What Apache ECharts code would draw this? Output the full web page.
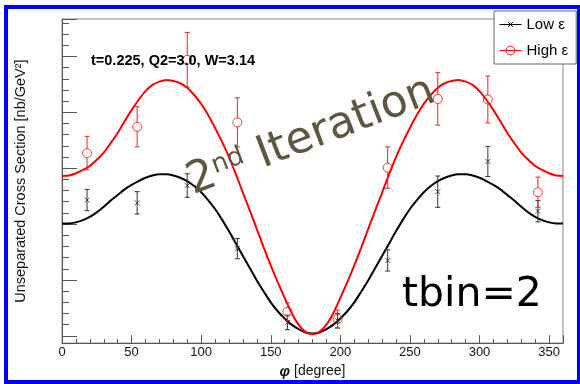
<!DOCTYPE html>
<html>
<head>
<meta charset="utf-8">
<script src="https://cdn.jsdelivr.net/npm/echarts@6/dist/echarts.min.js"></script>
<style>html,body{margin:0;padding:0;background:#fff}#c{width:580px;height:384px}</style>
</head>
<body>
<div id="c"></div>
<script>
// measured points (phi in degrees, cross section in arbitrary units of one major y tick)
const phiPts = [18, 54, 90, 126, 162, 198, 234, 270, 306, 342];
const lowVals = [2.43, 2.38, 2.69, 1.56, 0.24, 0.27, 1.35, 2.58, 3.12, 2.23];
const lowErr  = [0.19, 0.20, 0.21, 0.18, 0.13, 0.13, 0.19, 0.28, 0.27, 0.19];
const highVals = [3.27, 3.74, 4.94, 3.82, 0.43, 0.30, 3.01, 4.24, 4.23, 2.57];
const highErr  = [0.30, 0.36, 0.49, 0.44, 0.16, 0.16, 0.37, 0.47, 0.42, 0.27];
// fitted curves every 5 degrees
const phiCurve = [0,5,10,15,20,25,30,35,40,45,50,55,60,65,70,75,80,85,90,95,100,105,110,115,120,125,130,135,140,145,150,155,160,165,170,175,180,
  185,190,195,200,205,210,215,220,225,230,235,240,245,250,255,260,265,270,275,280,285,290,295,300,305,310,315,320,325,330,335,340,345,350,355,360];
const lowFit = [2.01,2.01,2.03,2.07,2.13,2.21,2.31,2.42,2.52,2.62,2.70,2.77,2.83,2.87,2.89,2.89,2.87,2.83,2.77,2.68,2.57,2.43,2.27,2.08,1.87,1.65,1.43,1.21,0.99,0.79,0.60,0.44,0.31,0.20,0.12,0.06,0.04,
  0.06,0.12,0.20,0.31,0.44,0.60,0.79,0.99,1.21,1.43,1.65,1.87,2.08,2.27,2.43,2.57,2.68,2.77,2.83,2.87,2.89,2.89,2.87,2.83,2.77,2.70,2.62,2.52,2.42,2.31,2.21,2.13,2.07,2.03,2.01,2.01];
const highFit = [2.86,2.87,2.91,2.97,3.04,3.15,3.28,3.45,3.63,3.84,4.04,4.22,4.38,4.49,4.55,4.58,4.56,4.52,4.44,4.31,4.15,3.95,3.72,3.47,3.20,2.89,2.56,2.24,1.91,1.58,1.26,0.96,0.68,0.41,0.20,0.07,0.03,
  0.07,0.20,0.41,0.68,0.96,1.26,1.58,1.91,2.24,2.56,2.89,3.20,3.47,3.72,3.95,4.15,4.31,4.44,4.52,4.56,4.58,4.55,4.49,4.38,4.22,4.04,3.84,3.63,3.45,3.28,3.15,3.04,2.97,2.91,2.87,2.86];
const xTicks = [0, 50, 100, 150, 200, 250, 300, 350];

const crossPath = 'path://M0,0L10,10M0,10L10,0';
const crossLegend = 'path://M0,0M10,10M2.2,2.2L7.8,7.8M2.2,7.8L7.8,2.2';

function zip(xs, ys) { return xs.map((x, i) => [x, ys[i]]); }
function zip3(xs, ys, es) { return xs.map((x, i) => [x, ys[i], es[i]]); }

function errSeries(name, data, color, gap) {
  return {
    type: 'custom', name: name, data: data, z: 3, silent: true,
    renderItem: function (params, api) {
      const x = api.value(0), y = api.value(1), e = api.value(2);
      const c = api.coord([x, y]);
      const t = api.coord([x, y + e]);
      const b = api.coord([x, y - e]);
      const w = 2.5;
      const st = { stroke: color, lineWidth: 1 };
      const ch = [
        { type: 'line', shape: { x1: t[0], y1: t[1], x2: t[0], y2: c[1] - gap }, style: st },
        { type: 'line', shape: { x1: b[0], y1: c[1] + gap, x2: b[0], y2: b[1] }, style: st },
        { type: 'line', shape: { x1: t[0] - w, y1: t[1], x2: t[0] + w, y2: t[1] }, style: st },
        { type: 'line', shape: { x1: b[0] - w, y1: b[1], x2: b[0] + w, y2: b[1] }, style: st }
      ];
      return { type: 'group', children: ch };
    }
  };
}

const chart = echarts.init(document.getElementById('c'), null, { renderer: 'canvas' });
const axisColor = '#555';
const option = {
  animation: false,
  backgroundColor: '#fff',
  grid: { left: 62, right: 17, top: 19, bottom: 39, show: true, borderColor: '#888', borderWidth: 1 },
  xAxis: {
    type: 'value', min: 0, max: 360, interval: 50,
    axisLine: { onZero: false, lineStyle: { color: axisColor } },
    axisTick: { inside: true, length: 8, lineStyle: { color: axisColor } },
    minorTick: { show: true, splitNumber: 5, length: 4, lineStyle: { color: axisColor } },
    splitLine: { show: false },
    axisLabel: {
      margin: 3, showMaxLabel: false, color: '#111', fontFamily: 'Liberation Sans', fontSize: 13,
      formatter: function (v) { return xTicks.indexOf(v) >= 0 ? String(v) : ''; }
    },
    name: '{i|φ} [degree]', nameLocation: 'middle', nameGap: 17,
    nameTextStyle: {
      fontFamily: 'Liberation Sans', fontSize: 14, color: '#111',
      rich: { i: { fontFamily: 'Liberation Sans', fontStyle: 'italic', fontWeight: 'bold', fontSize: 15, color: '#111' } }
    }
  },
  yAxis: {
    type: 'value', min: -0.13, max: 5.67, splitNumber: 5,
    axisLine: { onZero: false, lineStyle: { color: axisColor } },
    axisTick: { inside: true, length: 15, lineStyle: { color: axisColor } },
    minorTick: { show: true, splitNumber: 5, length: 7, lineStyle: { color: axisColor } },
    splitLine: { show: false },
    axisLabel: { show: false },
    name: 'Unseparated Cross Section [nb/GeV²]', nameLocation: 'middle', nameGap: 34,
    nameTextStyle: { fontFamily: 'Liberation Sans', fontSize: 14.5, color: '#111' }
  },
  legend: {
    orient: 'vertical', left: 494, top: 11, padding: [6, 8, 6, 5], itemGap: 11,
    itemWidth: 22, itemHeight: 11, backgroundColor: '#fff', borderColor: '#666', borderWidth: 1,
    textStyle: { fontFamily: 'Liberation Sans', fontSize: 15, color: '#000' },
    data: [
      { name: 'Low ε', itemStyle: { color: 'transparent', borderColor: '#000', borderWidth: 1 }, lineStyle: { color: '#000', width: 1 } },
      { name: 'High ε', itemStyle: { color: 'transparent', borderColor: '#f00', borderWidth: 1 }, lineStyle: { color: '#f00', width: 1 } }
    ]
  },
  series: [
    {
      type: 'line', name: 'Low ε', data: zip(phiCurve, lowFit), smooth: 0.3, showSymbol: false,
      symbol: crossLegend, lineStyle: { color: '#000', width: 2 }, itemStyle: { color: '#000' }, z: 2
    },
    {
      type: 'line', name: 'High ε', data: zip(phiCurve, highFit), smooth: 0.3, showSymbol: false,
      symbol: 'circle', lineStyle: { color: '#f00', width: 2 }, itemStyle: { color: '#f00' }, z: 2
    },
    errSeries('lowErrBars', zip3(phiPts, lowVals, lowErr), '#333', 0),
    errSeries('highErrBars', zip3(phiPts, highVals, highErr), '#e22', 4.5),
    {
      type: 'scatter', name: 'lowPts', data: zip(phiPts, lowVals), symbol: crossPath, symbolSize: 5, z: 4,
      itemStyle: { color: 'transparent', borderColor: '#222', borderWidth: 1 }
    },
    {
      type: 'scatter', name: 'highPts', data: zip(phiPts, highVals), symbol: 'circle', symbolSize: 9, z: 4,
      itemStyle: { color: 'transparent', borderColor: '#f00', borderWidth: 1 }
    }
  ],
  graphic: [
    {
      type: 'text', left: 91, top: 53, z: 50,
      style: { text: 't=0.225, Q2=3.0, W=3.14', fontFamily: 'Liberation Sans', fontWeight: 'bold', fontSize: 14.5, fill: '#000' }
    },
    {
      type: 'text', x: 311, y: 137, rotation: 21 * Math.PI / 180, z: 50,
      style: {
        text: '{a|2}{b|nd}{a| Iteration}', align: 'center', verticalAlign: 'middle',
        rich: {
          a: { fontFamily: 'DejaVu Sans', fontSize: 44, fill: '#5f5641', color: '#5f5641' },
          b: { fontFamily: 'DejaVu Sans', fontSize: 26, fill: '#5f5641', color: '#5f5641', verticalAlign: 'top', padding: [2, 0, 0, 0] }
        }
      }
    },
    {
      type: 'text', x: 402, y: 295, z: 50,
      style: { text: 'tbin=2', fontFamily: 'DejaVu Sans', fontSize: 41, fill: '#000', align: 'left', verticalAlign: 'middle' }
    },
    {
      type: 'rect', z: 100, silent: true,
      shape: { x: 6, y: 7, width: 573, height: 375 },
      style: { fill: 'none', stroke: '#0000ff', lineWidth: 4 }
    }
  ]
};
chart.setOption(option);
</script>
</body>
</html>
